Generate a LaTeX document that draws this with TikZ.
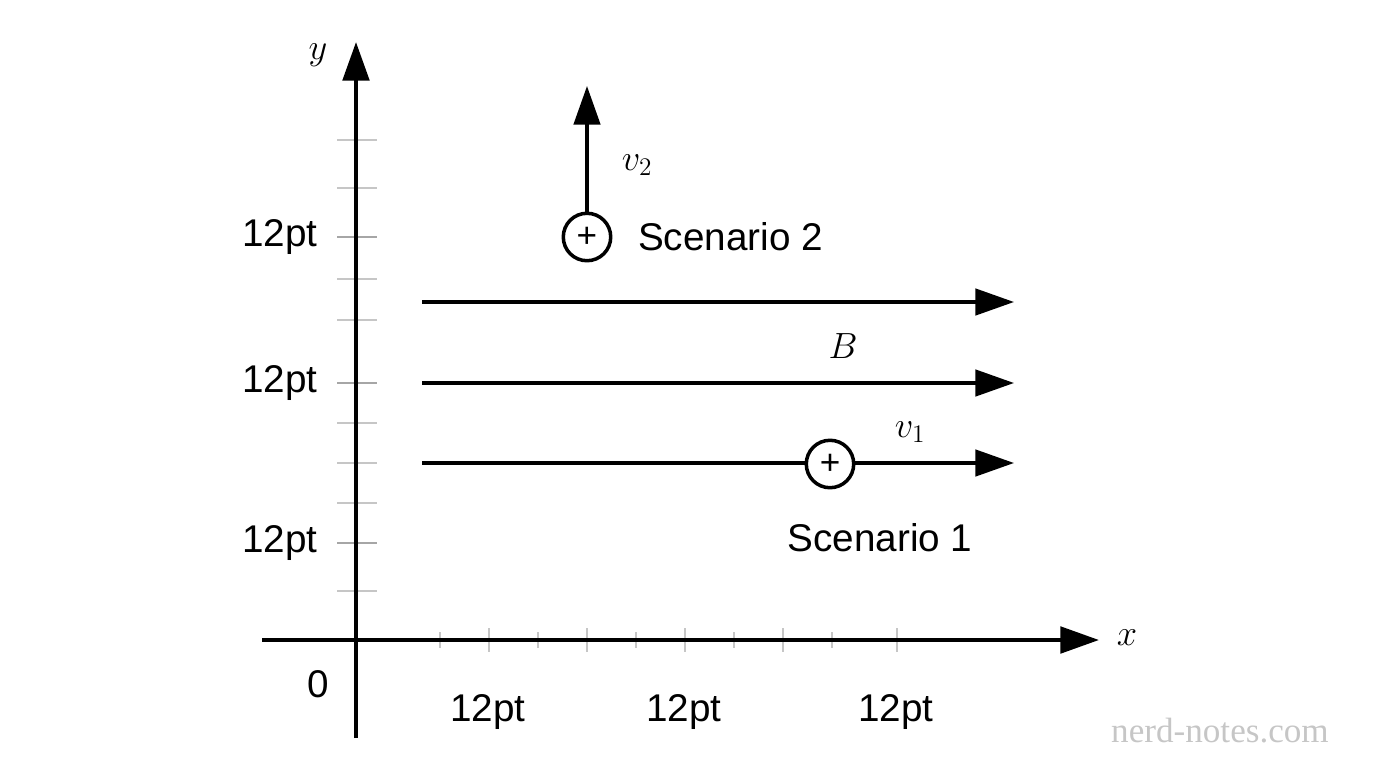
\documentclass[tikz,border=0pt]{standalone}
\usepackage{fontspec}
\setmainfont{Liberation Sans}
\usetikzlibrary{arrows.meta}
\begin{document}
\begin{tikzpicture}[x=0.02cm,y=-0.02cm,
  ax/.style={line width=2.4pt,-{Triangle[length=22pt,width=15pt]}},
  fl/.style={line width=2pt,-{Triangle[length=22pt,width=15pt]}},
  tk/.style={gray!45,line width=1.2pt},
  lab/.style={font=\fontsize{22}{26}\selectfont},
  ch/.style={circle,draw,line width=2pt,minimum size=27pt,inner sep=0pt,font=\fontsize{20}{20}\selectfont}]
\useasboundingbox (0,0) rectangle (1376,768);
% ticks
\foreach \x/\l in {440/8,489/12,538/8,587/12,636/8,685/12,734/8,783/12,832/8,897/12}
  \draw[tk] (\x,640-\l) -- (\x,640+\l);
\foreach \y in {140,188,279,320,423,463,503,591}
  \draw[tk] (337,\y) -- (377,\y);
\foreach \y in {237,383,543}
  \draw[gray!70,line width=1.2pt] (337,\y) -- (377,\y);
% axes
\coordinate (ys) at (356,738); \coordinate (ye) at (356,42);
\coordinate (xs) at (262,640); \coordinate (xe) at (1099,640);
\draw[ax] (ys) -- (ye);
\draw[ax] (xs) -- (xe);
\node[lab] (ylab) at (318,55) {$y$};
\node[lab] (xlab) at (1127,638) {$x$};
\node[lab] (zero) at (318,684) {0};
\foreach \y [count=\i] in {237,383,543} \node[lab] (yl\i) at (280,\y) {12pt};
\foreach \x [count=\i] in {488,684,896} \node[lab] (xl\i) at (\x,712) {12pt};
% field lines
\foreach \y [count=\i] in {302,383,463} {
  \coordinate (fa\i) at (422,\y); \coordinate (fb\i) at (1014,\y);
  \draw[fl] (fa\i) -- (fb\i);}
\node[lab] (B) at (843,346) {$B$};
% charges
\node[ch,fill=white] (q1) at (830,464) {+};
\node[lab] (v1) at (910,432) {$v_1$};
\node[lab] (s1) at (880,538) {Scenario 1};
\node[ch] (q2) at (587,237) {+};
\coordinate (v2e) at (587,86);
\draw[fl] (q2.north) -- (v2e);
\node[lab] (v2) at (637,165) {$v_2$};
\node[lab,anchor=west] (s2) at (632,237) {Scenario 2};
\node[font=\fontsize{20}{20}\selectfont\fontspec{Liberation Serif},text=gray!45] (wm) at (1220,731) {nerd-notes.com};
\end{tikzpicture}
\end{document}
